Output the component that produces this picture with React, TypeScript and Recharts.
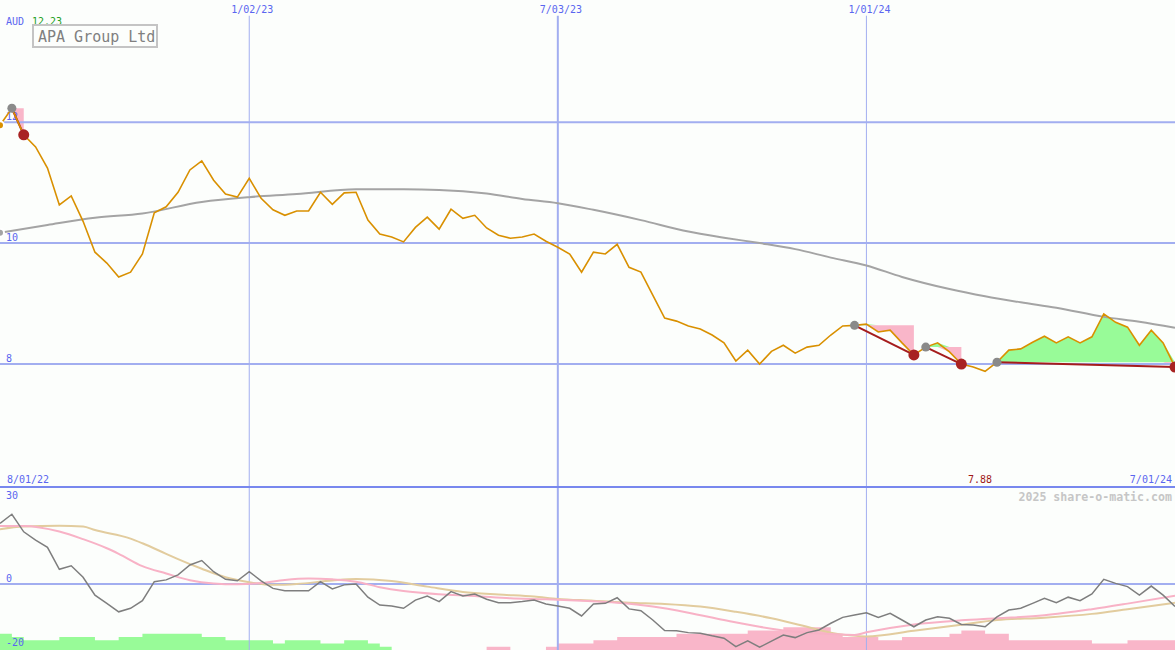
import React from "react";
import { ComposedChart, Line, Area, XAxis, YAxis, ReferenceLine } from "recharts";

const W = 1175;
const TOP_H = 488;
const BOT_H = 162;
const TOP_MIN = 5.95;
const TOP_MAX = 14.02;
const OSC_MIN = -22.53;
const OSC_MAX = 32.76;

// weekly closes, index 0..99
const price = [
  11.95, 12.23, 11.79, 11.59, 11.24, 10.63, 10.78, 10.36, 9.85, 9.67,
  9.44, 9.52, 9.82, 10.5, 10.6, 10.84, 11.21, 11.36, 11.04, 10.81,
  10.76, 11.07, 10.74, 10.55, 10.46, 10.53, 10.53, 10.84, 10.64, 10.83,
  10.84, 10.38, 10.15, 10.1, 10.02, 10.26, 10.43, 10.23, 10.56, 10.41,
  10.46, 10.25, 10.13, 10.08, 10.1, 10.15, 10.03, 9.93, 9.82, 9.52,
  9.85, 9.82, 9.98, 9.6, 9.52, 9.14, 8.76, 8.71, 8.63, 8.58,
  8.48, 8.35, 8.05, 8.23, 8.0, 8.21, 8.31, 8.18, 8.28, 8.31,
  8.48, 8.63, 8.64, 8.66, 8.53, 8.56, 8.35, 8.15, 8.28, 8.35,
  8.2, 8.0, 7.95, 7.88, 8.03, 8.23, 8.25, 8.36, 8.46, 8.35,
  8.45, 8.35, 8.45, 8.83, 8.69, 8.61, 8.31, 8.56, 8.35, 7.95,
];

// long moving average, read at sample weeks
const maPoints = [
  [0, 10.17], [4, 10.3], [8, 10.42], [12, 10.49], [17, 10.68], [21, 10.76],
  [25, 10.81], [30, 10.89], [34, 10.89], [37, 10.88], [41, 10.82], [44, 10.73],
  [47, 10.66], [50, 10.55], [54, 10.38], [58, 10.19], [61, 10.09], [64, 10.0],
  [67, 9.9], [70, 9.76], [73, 9.63], [76, 9.44], [80, 9.24], [83, 9.12],
  [86, 9.02], [89, 8.93], [93, 8.78], [96, 8.7], [99, 8.6],
];

// entry / exit weeks
const trades = [
  { entry: 1, exit: 2 },
  { entry: 72, exit: 77 },
  { entry: 78, exit: 81 },
  { entry: 84, exit: 99 },
];

const osc = [
  20.7, 23.8, 17.8, 15.0, 12.5, 5.0, 6.2, 2.3, -3.8, -6.6,
  -9.5, -8.3, -5.7, 0.8, 1.4, 3.1, 6.5, 8.0, 4.2, 1.6,
  1.1, 4.2, 1.1, -1.5, -2.3, -2.3, -2.3, 0.8, -1.7, -0.3,
  0.0, -4.5, -7.2, -7.5, -8.3, -5.5, -4.1, -6.0, -2.6, -4.1,
  -3.4, -5.2, -6.4, -6.4, -6.0, -5.5, -6.8, -7.5, -8.3, -10.9,
  -6.8, -6.6, -4.7, -8.5, -9.1, -12.3, -15.9, -16.0, -16.6, -16.8,
  -17.7, -18.5, -21.4, -19.4, -21.6, -19.5, -17.4, -18.3, -16.6, -15.7,
  -13.4, -11.4, -10.6, -9.8, -11.4, -10.0, -12.3, -14.6, -12.3, -11.2,
  -11.7, -13.8, -14.0, -14.6, -11.2, -8.9, -8.3, -6.6, -4.9, -6.4,
  -4.5, -5.7, -3.4, 1.6, 0.2, -0.9, -3.8, -0.7, -3.8, -7.7,
];

const fastPoints = [
  [0, 19.8], [2, 19.8], [5, 17.9], [7, 15.3], [9, 12.2], [10, 10.3], [12, 6.1],
  [14, 3.6], [16, 1.3], [18, 0.2], [20, -0.1], [22, 0.3], [24, 1.4], [26, 1.9],
  [28, 1.6], [30, 0.8], [32, -1.1], [34, -2.4], [37, -3.5], [40, -4.1], [43, -4.9],
  [46, -5.2], [49, -5.7], [52, -6.4], [55, -7.7], [58, -9.8], [61, -12.3],
  [64, -14.6], [67, -16.3], [70, -17.1], [72, -17.4], [73, -16.5], [77, -13.8],
  [81, -12.4], [84, -11.7], [88, -10.7], [92, -8.6], [95, -6.7], [99, -4.0],
];

const slowPoints = [
  [0, 18.7], [2, 19.6], [5, 19.9], [7, 19.6], [8, 18.4], [11, 15.5], [12, 13.9],
  [14, 10.3], [15, 8.5], [17, 5.2], [19, 2.3], [21, 0.6], [23, -0.3], [25, 0.0],
  [28, 1.2], [30, 1.7], [33, 1.0], [36, -0.9], [39, -2.7], [42, -3.6], [45, -4.3],
  [47, -5.1], [50, -5.7], [53, -6.4], [56, -6.8], [59, -7.7], [62, -9.5],
  [65, -11.7], [68, -14.6], [70, -16.6], [73, -17.9], [77, -16.0], [81, -13.9],
  [84, -12.3], [88, -11.5], [92, -10.2], [95, -8.6], [99, -6.4],
];

const greenBars = [
  5, 4, 3, 3, 3, 4, 4, 4, 3, 3, 4, 4, 5, 5, 5, 5, 5, 4, 4, 3,
  3, 3, 3, 2, 3, 3, 3, 2, 2, 3, 3, 2, 1, 0, 0, 0, 0, 0, 0, 0,
  0, 0, 0, 0, 0, 0, 0, 0, 0, 0, 0, 0, 0, 0, 0, 0, 0, 0, 0, 0,
  0, 0, 0, 0, 0, 0, 0, 0, 0, 0, 0, 0, 0, 0, 0, 0, 0, 0, 0, 0,
  0, 0, 0, 0, 0, 0, 0, 0, 0, 0, 0, 0, 0, 0, 0, 0, 0, 0, 0, 0,
];

const pinkBars = [
  0, 0, 0, 0, 0, 0, 0, 0, 0, 0, 0, 0, 0, 0, 0, 0, 0, 0, 0, 0,
  0, 0, 0, 0, 0, 0, 0, 0, 0, 0, 0, 0, 0, 0, 0, 0, 0, 0, 0, 0,
  0, 1, 1, 0, 0, 0, 1, 2, 2, 2, 3, 3, 4, 4, 4, 4, 4, 5, 5, 5,
  5, 5, 5, 6, 6, 6, 7, 7, 7, 7, 5, 4, 4, 4, 3, 3, 4, 4, 4, 4,
  5, 6, 6, 5, 5, 3, 3, 3, 3, 3, 3, 3, 2, 2, 2, 3, 3, 3, 3, 3,
];

const gridIdx = [21, 47, 73];
const gridLabels = ["1/02/23", "7/03/23", "1/01/24"];
const priceTicks = [12, 10, 8];
const oscTicks = [30, 0, -20];

const BLUE = "#a2aef0";
const TXT = "#5a66f0";
const FONT = "'DejaVu Sans Mono', monospace";

const lookup = (pts: number[][]) => {
  const m = new Map<number, number>();
  pts.forEach(([i, v]) => m.set(i, v));
  return m;
};

const maMap = lookup(maPoints);
const fastMap = lookup(fastPoints);
const slowMap = lookup(slowPoints);

const topData = price.map((p, i) => {
  const row: any = { i, price: p, ma: maMap.get(i) ?? null, buy: null, sell: null };
  trades.forEach((t, k) => {
    const e = price[t.entry];
    const inside = i >= t.entry && i <= t.exit;
    row[`gain${k}`] = inside ? [e, Math.max(p, e)] : null;
    row[`loss${k}`] = inside ? [Math.min(p, e), e] : null;
    row[`trade${k}`] = i === t.entry || i === t.exit ? p : null;
    if (i === t.entry) row.buy = p;
    if (i === t.exit) row.sell = p;
  });
  return row;
});

const botData = osc.map((v, i) => ({
  i,
  osc: v,
  fast: fastMap.get(i) ?? null,
  slow: slowMap.get(i) ?? null,
  gBar: greenBars[i],
  pBar: pinkBars[i],
}));

const hLabel = (text: string, dy: number) => (props: any) => {
  const vb = props.viewBox || {};
  return (
    <text x={(vb.x ?? 0) + 6} y={(vb.y ?? 0) + dy} fill={TXT} fontSize={10} fontFamily={FONT}>
      {text}
    </text>
  );
};

const vLabel = (text: string) => (props: any) => {
  const vb = props.viewBox || {};
  return (
    <text x={(vb.x ?? 0) - 18} y={13} fill={TXT} fontSize={10} fontFamily={FONT}>
      {text}
    </text>
  );
};

export default function App() {
  const low = Math.min(...price);
  const high = Math.max(...price);
  return (
    <div
      style={{
        position: "absolute",
        left: 0,
        top: 0,
        width: W,
        height: TOP_H + BOT_H,
        background: "#fcfefc",
        overflow: "hidden",
      }}
    >
      <div style={{ position: "absolute", left: 0, top: 0 }}>
        <ComposedChart width={W} height={TOP_H} data={topData} margin={{ top: 0, right: 0, bottom: 0, left: 0 }}>
          <XAxis dataKey="i" type="number" domain={[0, 99]} hide allowDataOverflow />
          <YAxis type="number" domain={[TOP_MIN, TOP_MAX]} hide allowDataOverflow />
          {priceTicks.map((v) => (
            <ReferenceLine key={`h${v}`} y={v} stroke={BLUE} strokeWidth={2} label={hLabel(String(v), -2)} />
          ))}
          {gridIdx.map((x, k) => (
            <ReferenceLine
              key={`v${x}`}
              segment={[{ x, y: TOP_MIN }, { x, y: 13.76 }]}
              stroke={BLUE}
              strokeWidth={k === 1 ? 2 : 1}
              label={vLabel(gridLabels[k])}
            />
          ))}
          {trades.map((t, k) => (
            <Area
              key={`g${k}`}
              dataKey={`gain${k}`}
              type="linear"
              fill="#98fb98"
              fillOpacity={1}
              stroke="none"
              isAnimationActive={false}
              activeDot={false}
            />
          ))}
          {trades.map((t, k) => (
            <Area
              key={`l${k}`}
              dataKey={`loss${k}`}
              type="linear"
              fill="#f9b6c9"
              fillOpacity={1}
              stroke="none"
              isAnimationActive={false}
              activeDot={false}
            />
          ))}
          <Line
            dataKey="ma"
            type="monotone"
            stroke="#a4a4a4"
            strokeWidth={2}
            dot={false}
            connectNulls
            isAnimationActive={false}
          />
          {trades.map((t, k) => (
            <Line
              key={`t${k}`}
              dataKey={`trade${k}`}
              type="linear"
              stroke="#a51c1c"
              strokeWidth={2}
              dot={false}
              connectNulls
              isAnimationActive={false}
            />
          ))}
          <Line
            dataKey="buy"
            stroke="none"
            dot={{ r: 4.5, fill: "#8a8a8a", stroke: "none" }}
            activeDot={false}
            isAnimationActive={false}
          />
          <Line
            dataKey="sell"
            stroke="none"
            dot={{ r: 5.5, fill: "#a82222", stroke: "none" }}
            activeDot={false}
            isAnimationActive={false}
          />
          <Line
            dataKey="price"
            type="linear"
            stroke="#d99000"
            strokeWidth={1.6}
            dot={false}
            isAnimationActive={false}
          />
        </ComposedChart>
      </div>

      <div style={{ position: "absolute", left: 0, top: TOP_H }}>
        <ComposedChart width={W} height={BOT_H} data={botData} margin={{ top: 0, right: 0, bottom: 0, left: 0 }}>
          <XAxis dataKey="i" type="number" domain={[0, 99]} hide allowDataOverflow />
          <YAxis yAxisId="osc" type="number" domain={[OSC_MIN, OSC_MAX]} hide allowDataOverflow />
          <YAxis yAxisId="bars" type="number" domain={[0, 50]} hide allowDataOverflow />
          <Area
            yAxisId="bars"
            dataKey="gBar"
            type="stepAfter"
            fill="#98fb98"
            fillOpacity={1}
            stroke="none"
            isAnimationActive={false}
            activeDot={false}
          />
          <Area
            yAxisId="bars"
            dataKey="pBar"
            type="stepAfter"
            fill="#f9b6c9"
            fillOpacity={1}
            stroke="none"
            isAnimationActive={false}
            activeDot={false}
          />
          {gridIdx.map((x, k) => (
            <ReferenceLine key={`bv${x}`} yAxisId="osc" x={x} stroke={BLUE} strokeWidth={k === 1 ? 2 : 1} />
          ))}
          {oscTicks.map((v) => (
            <ReferenceLine
              key={`bh${v}`}
              yAxisId="osc"
              y={v}
              stroke={v === 0 ? BLUE : "none"}
              strokeWidth={2}
              label={hLabel(String(v), v === 0 ? -2 : v > 0 ? 3 : 3.5)}
            />
          ))}
          <Line
            yAxisId="osc"
            dataKey="slow"
            type="monotone"
            stroke="#e2cc9e"
            strokeWidth={2}
            dot={false}
            connectNulls
            isAnimationActive={false}
          />
          <Line
            yAxisId="osc"
            dataKey="fast"
            type="monotone"
            stroke="#f8b2c6"
            strokeWidth={2}
            dot={false}
            connectNulls
            isAnimationActive={false}
          />
          <Line
            yAxisId="osc"
            dataKey="osc"
            type="linear"
            stroke="#7e7e7e"
            strokeWidth={1.5}
            dot={false}
            isAnimationActive={false}
          />
        </ComposedChart>
      </div>

      <svg
        width={W}
        height={TOP_H + BOT_H}
        style={{ position: "absolute", left: 0, top: 0, pointerEvents: "none" }}
      >
        <rect x={0} y={TOP_H - 2} width={W} height={2} fill="#7888ee" />
        <text x={6} y={25} fill={TXT} fontSize={10} fontFamily={FONT}>AUD</text>
        <text x={32} y={25} fill="#22a022" fontSize={10} fontFamily={FONT}>{high.toFixed(2)}</text>
        <rect x={33} y={25} width={124} height={22} fill="none" stroke="#c4c4c4" strokeWidth={2} />
        <text x={38} y={42} fill="#808080" fontSize={15} fontFamily={FONT}>APA Group Ltd</text>
        <text x={7} y={483} fill={TXT} fontSize={10} fontFamily={FONT}>8/01/22</text>
        <text x={968} y={483} fill="#a01818" fontSize={10} fontFamily={FONT}>{low.toFixed(2)}</text>
        <text x={1172} y={483} fill={TXT} fontSize={10} fontFamily={FONT} textAnchor="end">7/01/24</text>
        <text
          x={1172}
          y={501}
          fill="#c6c6c6"
          fontSize={11.6}
          fontWeight="bold"
          fontFamily={FONT}
          textAnchor="end"
        >
          2025 share-o-matic.com
        </text>
      </svg>
    </div>
  );
}
